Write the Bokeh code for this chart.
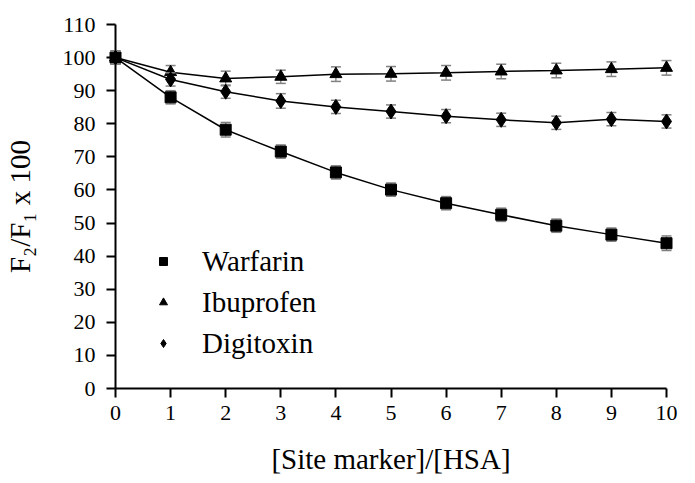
from bokeh.plotting import figure
from bokeh.models import Range1d, FixedTicker, Legend, LegendItem, ColumnDataSource
from bokeh.embed import file_html
from bokeh.resources import INLINE

ratio = [0, 1, 2, 3, 4, 5, 6, 7, 8, 9, 10]
warfarin = [100, 88.0, 78.2, 71.6, 65.3, 60.1, 56.0, 52.5, 49.2, 46.5, 43.9]
ibuprofen = [100, 95.6, 93.7, 94.2, 95.0, 95.1, 95.4, 95.8, 96.1, 96.5, 96.9]
digitoxin = [100, 93.4, 89.7, 86.9, 85.1, 83.7, 82.3, 81.2, 80.3, 81.4, 80.7]
warfarin_err = [2.0, 2.0, 2.2, 2.0, 2.0, 2.0, 2.0, 2.0, 2.0, 2.0, 2.2]
ibuprofen_err = [2.0, 2.0, 2.2, 2.0, 2.2, 2.2, 2.2, 2.2, 2.2, 2.2, 2.2]
digitoxin_err = [2.0, 2.0, 2.0, 2.2, 2.0, 2.0, 2.0, 2.0, 2.0, 2.0, 2.0]
x_ticks = list(range(0, 11))
y_ticks = list(range(0, 111, 10))

FONT = "Liberation Serif"

p = figure(frame_width=551, frame_height=364, output_backend="svg", toolbar_location=None,
           x_range=Range1d(0, 10), y_range=Range1d(0, 110),
           min_border_left=115, min_border_right=22, min_border_top=24, min_border_bottom=87)
p.outline_line_color = None
p.xgrid.visible = False
p.ygrid.visible = False
p.background_fill_color = "white"
p.border_fill_color = "white"

for ax in (p.xaxis[0], p.yaxis[0]):
    ax.axis_line_width = 2
    ax.axis_line_color = "black"
    ax.major_tick_line_width = 2
    ax.major_tick_line_color = "black"
    ax.major_tick_out = 9
    ax.major_tick_in = 0
    ax.minor_tick_line_color = None
    ax.major_label_text_font = FONT
    ax.major_label_text_font_size = "22px"
    ax.major_label_text_color = "black"
    ax.axis_label_text_font = FONT
    ax.axis_label_text_font_size = "29px"
    ax.axis_label_text_font_style = "normal"
    ax.axis_label_text_color = "black"

p.xaxis.ticker = FixedTicker(ticks=x_ticks)
p.yaxis.ticker = FixedTicker(ticks=y_ticks)
p.xaxis.axis_label = "[Site marker]/[HSA]"
p.yaxis.axis_label = "F\u2082/F\u2081 x 100"
p.xaxis.major_label_standoff = 8
p.yaxis.major_label_standoff = 11
p.xaxis.axis_label_standoff = 20
p.yaxis.axis_label_standoff = 24

ERR = "#808080"
series = [
    (warfarin, warfarin_err, "square", 11, "Warfarin"),
    (ibuprofen, ibuprofen_err, "triangle", 12, "Ibuprofen"),
    (digitoxin, digitoxin_err, "diamond", 15, "Digitoxin"),
]

items = []
for vals, err, marker, size, name in series:
    src = ColumnDataSource(dict(x=ratio, y=vals,
                                lo=[v - e for v, e in zip(vals, err)],
                                hi=[v + e for v, e in zip(vals, err)]))
    p.segment(x0="x", y0="lo", x1="x", y1="hi", source=src, line_color=ERR, line_width=1.3, level="overlay")
    p.scatter(x="x", y="hi", source=src, marker="dash", size=10, line_color=ERR, line_width=1.5, level="overlay")
    p.scatter(x="x", y="lo", source=src, marker="dash", size=10, line_color=ERR, line_width=1.5, level="overlay")
    p.line(x="x", y="y", source=src, line_color="black", line_width=1.5, level="overlay")
    r = p.scatter(x="x", y="y", source=src, marker=marker, size=size, fill_color="black", line_color="black", level="overlay")
    items.append(LegendItem(label=name, renderers=[r]))

legend = Legend(items=items, location=(38, 28), orientation="vertical",
                label_text_font=FONT, label_text_font_size="29px", label_text_color="black",
                glyph_width=20, glyph_height=20, label_height=34, spacing=7,
                label_standoff=29, padding=0, margin=0,
                border_line_color=None, background_fill_alpha=0)
p.add_layout(legend, "center")

open("out.html", "w").write(file_html(p, INLINE))
